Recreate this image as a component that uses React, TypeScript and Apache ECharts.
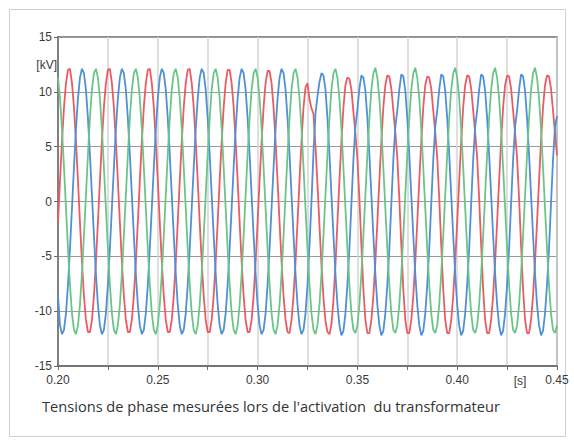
import React, { useEffect, useRef } from "react";
import * as echarts from "echarts";

// Sampling: one value per millisecond from 0.200 s to 0.450 s (251 samples)
const T_START = 0.2;
const T_STEP = 0.001;

const xTicks = [0.2, 0.25, 0.3, 0.35, 0.4, 0.45];
const yTicks = [-15, -10, -5, 0, 5, 10, 15];

const phaseNames = ["L1", "L2", "L3"];
const phaseColors = ["#ec5a63", "#4f90d6", "#6cc588"];

// Phase L1 (red) [kV]
const phaseRed = [
  -1.9, 1.9, 5.5, 8.6, 10.8, 12.0, 12.1, 10.8, 8.6, 5.5, 1.9, -1.9, -5.5, -8.6, -10.8, -11.9, -11.9, -10.8, -8.6, -5.5,
  -1.9, 1.9, 5.5, 8.6, 10.8, 12.0, 12.1, 10.8, 8.6, 5.5, 1.9, -1.9, -5.5, -8.6, -10.8, -11.9, -11.9, -10.8, -8.6, -5.5,
  -1.9, 1.9, 5.5, 8.6, 10.8, 12.0, 12.1, 10.8, 8.6, 5.5, 1.9, -1.9, -5.5, -8.6, -10.8, -11.9, -11.9, -10.8, -8.6, -5.5,
  -1.9, 1.9, 5.5, 8.6, 10.8, 12.0, 12.1, 10.8, 8.6, 5.5, 1.9, -1.9, -5.5, -8.6, -10.8, -11.9, -11.9, -10.8, -8.6, -5.5,
  -1.9, 1.9, 5.5, 8.6, 10.8, 12.0, 12.0, 10.8, 8.6, 5.5, 1.9, -1.9, -5.5, -8.6, -10.8, -11.9, -11.9, -10.8, -8.6, -5.5,
  -1.9, 1.9, 5.5, 8.6, 10.8, 11.9, 11.9, 10.8, 8.6, 5.5, 1.9, -1.9, -5.5, -8.6, -10.8, -11.9, -12.0, -10.8, -8.6, -5.5,
  -1.9, 1.9, 5.5, 8.6, 10.4, 10.8, 9.3, 8.5, 8.0, 5.0, 1.6, -2.2, -5.8, -8.8, -10.9, -11.9, -12.1, -11.2, -9.0, -5.8,
  -1.9, 1.9, 5.5, 8.6, 10.6, 11.3, 11.2, 10.2, 8.2, 6.2, 3.9, 0.3, -4.0, -8.0, -10.8, -12.0, -12.0, -10.8, -8.6, -5.5,
  -1.9, 1.9, 5.5, 8.6, 10.6, 11.5, 11.4, 10.3, 8.3, 6.3, 4.0, 0.3, -4.0, -8.0, -10.8, -12.0, -12.0, -10.8, -8.6, -5.5,
  -1.9, 1.9, 5.5, 8.6, 10.6, 11.4, 11.3, 10.3, 8.3, 6.3, 4.0, 0.3, -4.0, -8.0, -10.8, -12.0, -12.0, -10.8, -8.6, -5.5,
  -1.9, 1.9, 5.5, 8.6, 10.6, 11.5, 11.4, 10.3, 8.3, 6.3, 4.0, 0.3, -4.0, -8.0, -10.8, -12.0, -12.0, -10.8, -8.6, -5.5,
  -1.9, 1.9, 5.5, 8.6, 10.6, 11.5, 11.4, 10.3, 8.3, 6.3, 4.0, 0.3, -4.0, -8.0, -10.8, -12.0, -12.0, -10.8, -8.6, -5.5,
  -1.9, 1.9, 5.5, 8.6, 10.6, 11.5, 11.4, 10.3, 8.3, 6.3, 4.2,
];

// Phase L2 (blue) [kV]
const phaseBlue = [
  -8.6, -11.3, -12.1, -11.7, -10.2, -7.6, -4.3, -0.6, 3.1, 6.6, 9.4, 11.3, 12.1, 11.7, 10.2, 7.6, 4.3, 0.6, -3.1, -6.6,
  -9.4, -11.3, -12.1, -11.7, -10.2, -7.6, -4.3, -0.6, 3.1, 6.6, 9.4, 11.3, 12.1, 11.7, 10.2, 7.6, 4.3, 0.6, -3.1, -6.6,
  -9.4, -11.3, -12.1, -11.7, -10.2, -7.6, -4.3, -0.6, 3.1, 6.6, 9.4, 11.3, 12.1, 11.7, 10.2, 7.6, 4.3, 0.6, -3.1, -6.6,
  -9.4, -11.3, -12.1, -11.7, -10.2, -7.6, -4.3, -0.6, 3.1, 6.6, 9.4, 11.3, 12.1, 11.7, 10.2, 7.6, 4.3, 0.6, -3.1, -6.6,
  -9.4, -11.3, -12.1, -11.7, -10.2, -7.6, -4.3, -0.6, 3.1, 6.6, 9.4, 11.3, 12.1, 11.7, 10.2, 7.6, 4.3, 0.6, -3.1, -6.6,
  -9.4, -11.3, -12.1, -11.7, -10.2, -7.6, -4.3, -0.6, 3.1, 6.6, 9.4, 11.3, 12.1, 11.7, 10.2, 7.6, 4.3, 0.6, -3.1, -6.6,
  -9.4, -11.3, -12.1, -11.7, -10.2, -7.6, -4.0, 0.0, 4.5, 8.0, 9.6, 10.9, 11.7, 11.5, 10.2, 7.6, 4.3, 0.6, -3.1, -6.6,
  -9.4, -11.3, -12.2, -11.8, -10.2, -7.6, -4.3, -0.2, 3.8, 6.8, 8.4, 10.3, 11.5, 11.3, 10.1, 7.6, 4.3, 0.6, -3.1, -6.6,
  -9.4, -11.3, -12.2, -11.8, -10.2, -7.6, -4.3, -0.2, 3.8, 6.8, 8.3, 10.2, 11.6, 11.4, 10.1, 7.6, 4.3, 0.6, -3.1, -6.6,
  -9.4, -11.3, -12.2, -11.8, -10.2, -7.6, -4.3, -0.2, 3.8, 6.8, 8.3, 10.2, 11.6, 11.4, 10.1, 7.6, 4.3, 0.6, -3.1, -6.6,
  -9.4, -11.3, -12.2, -11.8, -10.2, -7.6, -4.3, -0.2, 3.8, 6.8, 8.3, 10.2, 11.6, 11.4, 10.1, 7.6, 4.3, 0.6, -3.1, -6.6,
  -9.4, -11.3, -12.2, -11.8, -10.2, -7.6, -4.3, -0.2, 3.8, 6.8, 8.3, 10.2, 11.6, 11.4, 10.1, 7.6, 4.3, 0.6, -3.1, -6.6,
  -9.4, -11.3, -12.2, -11.8, -10.2, -7.6, -4.3, -0.2, 3.8, 6.8, 7.8,
];

// Phase L3 (green) [kV]
const phaseGreen = [
  11.3, 9.4, 6.6, 3.1, -0.6, -4.3, -7.6, -10.2, -11.7, -12.1, -11.3, -9.4, -6.6, -3.1, 0.6, 4.3, 7.6, 10.2, 11.7, 12.1,
  11.3, 9.4, 6.6, 3.1, -0.6, -4.3, -7.6, -10.2, -11.7, -12.1, -11.3, -9.4, -6.6, -3.1, 0.6, 4.3, 7.6, 10.2, 11.7, 12.1,
  11.3, 9.4, 6.6, 3.1, -0.6, -4.3, -7.6, -10.2, -11.7, -12.1, -11.3, -9.4, -6.6, -3.1, 0.6, 4.3, 7.6, 10.2, 11.7, 12.1,
  11.3, 9.4, 6.6, 3.1, -0.6, -4.3, -7.6, -10.2, -11.7, -12.1, -11.3, -9.4, -6.6, -3.1, 0.6, 4.3, 7.6, 10.2, 11.7, 12.1,
  11.3, 9.4, 6.6, 3.1, -0.6, -4.3, -7.6, -10.2, -11.7, -12.1, -11.3, -9.4, -6.6, -3.1, 0.6, 4.3, 7.6, 10.2, 11.7, 12.1,
  11.3, 9.4, 6.6, 3.1, -0.6, -4.3, -7.6, -10.2, -11.7, -12.1, -11.3, -9.4, -6.6, -3.1, 0.6, 4.3, 7.6, 10.2, 11.7, 12.1,
  11.3, 9.4, 6.6, 3.1, -0.6, -4.3, -7.6, -10.2, -11.7, -12.1, -11.3, -9.4, -6.6, -3.1, 0.6, 4.3, 7.6, 10.2, 11.7, 12.1,
  11.3, 9.4, 6.6, 3.1, -0.6, -4.3, -7.6, -10.2, -11.7, -12.0, -11.3, -9.4, -6.6, -3.1, 0.6, 4.3, 7.6, 10.2, 11.7, 12.2,
  11.3, 9.4, 6.6, 3.1, -0.6, -4.3, -7.6, -10.2, -11.7, -12.0, -11.3, -9.4, -6.6, -3.1, 0.6, 4.3, 7.6, 10.2, 11.7, 12.2,
  11.3, 9.4, 6.6, 3.1, -0.6, -4.3, -7.6, -10.2, -11.7, -12.0, -11.3, -9.4, -6.6, -3.1, 0.6, 4.3, 7.6, 10.2, 11.7, 12.2,
  11.3, 9.4, 6.6, 3.1, -0.6, -4.3, -7.6, -10.2, -11.7, -12.0, -11.3, -9.4, -6.6, -3.1, 0.6, 4.3, 7.6, 10.2, 11.7, 12.2,
  11.3, 9.4, 6.6, 3.1, -0.6, -4.3, -7.6, -10.2, -11.7, -12.0, -11.3, -9.4, -6.6, -3.1, 0.6, 4.3, 7.6, 10.2, 11.7, 12.2,
  11.3, 9.4, 6.6, 3.1, -0.6, -4.3, -7.6, -10.2, -11.7, -12.0, -11.3,
];

const phases = [phaseRed, phaseBlue, phaseGreen];

const caption = "Tensions de phase mesurées lors de l'activation\u00a0 du transformateur";
const yUnit = "[kV]";
const xUnit = "[s]";

export default function App() {
  const ref = useRef<HTMLDivElement>(null);

  useEffect(() => {
    document.body.style.margin = "0";
    if (!ref.current) return;
    const chart = echarts.init(ref.current, null, { renderer: "svg" });
    const labelFont = "'Liberation Sans', Arial, sans-serif";

    const series = phases.map((vals, p) => ({
      name: phaseNames[p],
      type: "line",
      data: vals.map((v, i) => [T_START + i * T_STEP, v]),
      showSymbol: false,
      symbol: "none",
      smooth: false,
      lineStyle: { color: phaseColors[p], width: 1.8 },
      itemStyle: { color: phaseColors[p] },
      z: 3,
    }));

    chart.setOption({
      animation: false,
      backgroundColor: "#ffffff",
      grid: {
        left: 58,
        right: 17,
        top: 37,
        bottom: 79,
        show: true,
        borderColor: "#6a6a6a",
        borderWidth: 1.5,
      },
      xAxis: {
        type: "value",
        min: 0.2,
        max: 0.45,
        interval: 0.025,
        axisLine: { show: true, onZero: false, lineStyle: { color: "#6a6a6a", width: 1.5 } },
        axisTick: { show: true, length: 4, lineStyle: { color: "#6a6a6a" } },
        axisLabel: {
          color: "#3a3a3a",
          fontSize: 12,
          fontFamily: labelFont,
          margin: 8,
          formatter: (v: number) => {
            const match = xTicks.some((t) => Math.abs(t - v) < 1e-6);
            return match ? v.toFixed(2) : "";
          },
        },
        splitLine: { show: true, lineStyle: { color: "#d4d4d4", width: 1.5 } },
      },
      yAxis: {
        type: "value",
        min: yTicks[0],
        max: yTicks[yTicks.length - 1],
        interval: 5,
        axisLine: { show: true, lineStyle: { color: "#6a6a6a", width: 1.5 } },
        axisTick: { show: true, length: 4, lineStyle: { color: "#6a6a6a" } },
        axisLabel: { color: "#3a3a3a", fontSize: 12, fontFamily: labelFont, margin: 6 },
        splitLine: { show: true, lineStyle: { color: "#9a9a9a", width: 1 } },
      },
      series,
      graphic: [
        {
          type: "rect",
          shape: { x: 9.5, y: 9.5, width: 556, height: 427 },
          style: { fill: "none", stroke: "#cfcfcf", lineWidth: 1 },
          silent: true,
          z: -1,
        },
        {
          type: "text",
          x: 57,
          y: 65,
          style: {
            text: yUnit,
            fill: "#3a3a3a",
            font: `12px ${labelFont}`,
            align: "right",
            verticalAlign: "middle",
          },
        },
        {
          type: "text",
          x: 520,
          y: 381,
          style: {
            text: xUnit,
            fill: "#3a3a3a",
            font: `12px ${labelFont}`,
            align: "center",
            verticalAlign: "middle",
          },
        },
        {
          type: "text",
          x: 271,
          y: 406,
          style: {
            text: caption,
            fill: "#333",
            font: "14.6px 'Open Sans', 'Noto Sans', sans-serif",
            align: "center",
            verticalAlign: "middle",
          },
        },
      ],
    });

    return () => chart.dispose();
  }, []);

  return (
    <div
      ref={ref}
      style={{ position: "absolute", left: 0, top: 0, width: 574, height: 445 }}
    />
  );
}
